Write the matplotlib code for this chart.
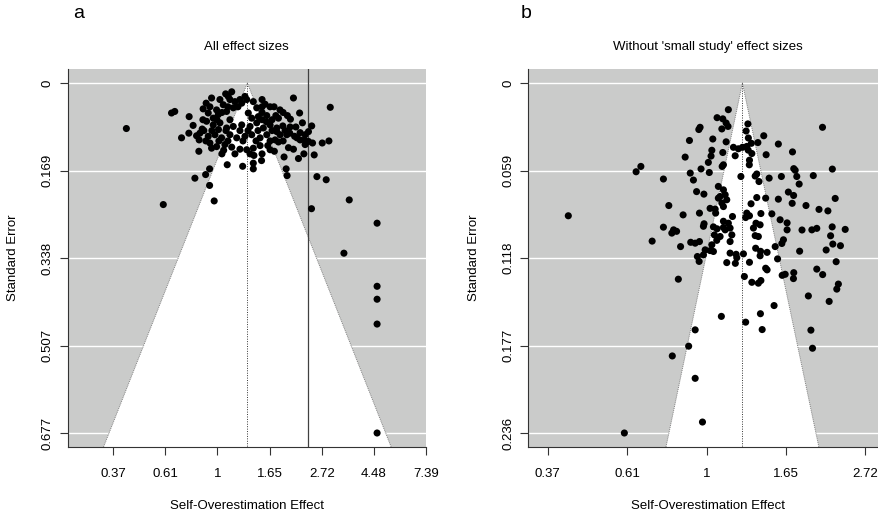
#!/usr/bin/env python3
"""Funnel plots of self-overestimation effects (log scale) vs standard error."""

import numpy as np
import matplotlib

matplotlib.use("Agg")
import matplotlib.pyplot as plt
from matplotlib.patches import Polygon

plt.rcParams["font.family"] = ["Liberation Sans", "DejaVu Sans"]

# panel a: all effect sizes (log effect, standard error)
a_yi = [
    -0.873, -0.440, -0.409, -0.344, -0.271, -0.233, -0.200, -0.178, -0.216, -0.113,
    -0.075, -0.075, -0.031, -0.519, 0.094, 0.242, 0.344, 0.344, 0.423, 0.639,
    0.659, 0.668, 0.729, 0.788, 0.671, 0.815, 0.904, 1.005, 1.069, 0.928,
    1.082, 0.954, 1.043, 1.264, 0.902, 1.531, 1.213, 1.531, 1.531, 1.531,
    1.531, -0.274, -0.175, -0.146, -0.108, -0.056, -0.137, 0.457, 0.543, 0.377,
    0.560, 0.473, 0.627, 0.697, 0.752, 0.569, 0.665, 0.694, 0.601, 0.793,
    0.841, 0.873, 0.585, 0.762, 0.793, 0.835, 0.873, 0.912, 0.841, 0.681,
    0.729, 0.829, 0.777, 0.505, 0.546, 0.483,
    0.079, 0.137, 0.104, 0.264, 0.281, 0.024, 0.056, -0.008, 0.168, 0.233, 0.344,
    -0.088, -0.040, 0.008, 0.088, 0.152, 0.296, 0.329, 0.392, 0.585,
    -0.104, -0.040, 0.024, 0.088, 0.152, 0.233, 0.313, 0.377, 0.440, 0.505, 0.569,
    -0.168, -0.088, -0.024, 0.040, 0.120, 0.185, 0.264, 0.329, 0.409, 0.473, 0.553,
    -0.072, -0.008, 0.072, 0.137, 0.216, 0.281, 0.344, 0.409, -0.056,
    -0.072, 0.101, 0.197, 0.428, 0.505,
    -0.139, -0.005, 0.120, 0.428, 0.524,
    -0.130, -0.053, 0.082, 0.216, 0.293, 0.389, 0.524, 0.649,
    -0.111, 0.014, 0.101, 0.245, 0.370, 0.505, 0.630,
    0.043, 0.168, 0.313, 0.428,
    0.120, 0.216, 0.428,
    0.043, 0.428, 0.630,
    0.010, 0.060, 0.350, 0.470, 0.600, 0.700, 0.740,
]
a_sei = [
    0.088, 0.058, 0.055, 0.106, 0.065, 0.082, 0.102, 0.132, 0.184, 0.177,
    0.166, 0.198, 0.228, 0.235, 0.158, 0.161, 0.155, 0.166, 0.150, 0.143,
    0.166, 0.179, 0.029, 0.058, 0.063, 0.077, 0.083, 0.116, 0.112, 0.139,
    0.047, 0.181, 0.187, 0.226, 0.243, 0.271, 0.329, 0.393, 0.418, 0.466,
    0.6766, 0.097, 0.110, 0.089, 0.039, 0.029, 0.050, 0.041, 0.046, 0.048,
    0.063, 0.063, 0.083, 0.085, 0.085, 0.094, 0.100, 0.097, 0.100, 0.096,
    0.100, 0.094, 0.114, 0.106, 0.110, 0.110, 0.113, 0.116, 0.119, 0.125,
    0.128, 0.137, 0.146, 0.129, 0.132, 0.121,
    0.021, 0.017, 0.026, 0.026, 0.032, 0.032, 0.042, 0.052, 0.036, 0.039, 0.036,
    0.058, 0.068, 0.061, 0.055, 0.048, 0.058, 0.068, 0.065, 0.068,
    0.074, 0.081, 0.077, 0.087, 0.084, 0.081, 0.084, 0.077, 0.087, 0.081, 0.087,
    0.097, 0.103, 0.100, 0.106, 0.100, 0.106, 0.103, 0.100, 0.106, 0.100, 0.110,
    0.116, 0.123, 0.119, 0.124, 0.128, 0.129, 0.126, 0.121, 0.126,
    0.046, 0.046, 0.046, 0.046, 0.046,
    0.071, 0.071, 0.071, 0.071, 0.071,
    0.092, 0.092, 0.092, 0.092, 0.092, 0.092, 0.092, 0.092,
    0.112, 0.112, 0.112, 0.112, 0.112, 0.112, 0.112,
    0.137, 0.137, 0.137, 0.137,
    0.032, 0.032, 0.032,
    0.057, 0.057, 0.057,
    0.090, 0.130, 0.140, 0.075, 0.052, 0.070, 0.103,
]
a_est = 0.287
a_ref = 0.873

# panel b: without 'small study' effect sizes
b_yi = [
    0.137, 0.066, 0.102, 0.123, 0.135, 0.096, -0.041, -0.049, -0.108, 0.039,
    0.123, -0.135, 0.033, 0.028, 0.011, 0.102, 0.106, 0.098, -0.035, -0.103,
    -0.083, 0.017, -0.444, -0.414, -0.272, -0.063, -0.017, 0.074, 0.106, 0.085,
    0.117, 0.096, 0.106, 0.054, 0.127, 0.074, -0.238, -0.148, -0.045, 0.022,
    0.057, -0.871, -0.272, -0.208, -0.219, -0.189, -0.343, -0.164, -0.100, -0.072,
    -0.045, -0.016, -0.020, 0.043, 0.033, 0.022, -0.020, -0.058, -0.047, -0.009,
    0.043, 0.064, 0.049, 0.106, 0.137, 0.117, 0.085, 0.148, 0.159, 0.163,
    0.148, 0.106, 0.148, 0.186, 0.190, 0.181, 0.127, 0.232, 0.270, 0.238,
    0.285, 0.326, 0.342, 0.260, 0.249, 0.263, 0.282, 0.323, 0.360, 0.169,
    0.200, 0.226, 0.180, 0.262, 0.285, 0.270, 0.269, 0.253, 0.375, 0.452,
    0.541, 0.730, 0.216, 0.306, 0.316, 0.330, 0.394, 0.471, 0.549, 0.558,
    0.568, 0.583, 0.672, 0.792, 0.316, 0.372, 0.452, 0.515, 0.548, 0.539,
    0.626, 0.708, 0.764, 0.810, 0.280, 0.253, 0.270, 0.246, 0.342, 0.411,
    0.463, 0.507, 0.507, 0.311, 0.337, 0.295, 0.306, 0.326, 0.601, 0.663,
    0.694, 0.791, 0.873, 0.781, 0.795, 0.843, 0.753, 0.816, 0.586, 0.484,
    0.474, 0.432, 0.309, 0.340, 0.381, 0.337, 0.447, 0.372, 0.381, 0.476,
    0.495, 0.549, 0.547, 0.694, 0.731, 0.830, 0.820, 0.772, 0.641, -0.178,
    0.425, 0.339, 0.246, 0.350, 0.093, -0.072, -0.113, -0.216, -0.072, -0.026,
    -0.518, 0.657, 0.667, 0.066,
]
b_sei = [
    0.0180, 0.0234, 0.0242, 0.0270, 0.0293, 0.0310, 0.0299, 0.0314, 0.0388, 0.0378,
    0.0397, 0.0500, 0.0454, 0.0493, 0.0536, 0.0469, 0.0552, 0.0563, 0.0580, 0.0608,
    0.0655, 0.0604, 0.0599, 0.0563, 0.0648, 0.0733, 0.0750, 0.0698, 0.0721, 0.0766,
    0.0754, 0.0810, 0.0834, 0.0851, 0.0788, 0.0777, 0.0827, 0.0890, 0.0878, 0.0846,
    0.0878, 0.0896, 0.0973, 0.0991, 0.1013, 0.1001, 0.1067, 0.1104, 0.1075, 0.1081,
    0.1070, 0.0950, 0.0967, 0.0971, 0.1092, 0.1131, 0.1160, 0.1171, 0.1204, 0.1126,
    0.1137, 0.1062, 0.1025, 0.0933, 0.0946, 0.0991, 0.1036, 0.1070, 0.1025, 0.0901,
    0.0979, 0.0975, 0.1148, 0.1156, 0.1179, 0.1217, 0.1212, 0.1153, 0.1210, 0.1306,
    0.1345, 0.1351, 0.1333, 0.0276, 0.0324, 0.0371, 0.0407, 0.0402, 0.0356, 0.0434,
    0.0444, 0.0434, 0.0491, 0.0453, 0.0476, 0.0521, 0.0552, 0.0428, 0.0484, 0.0412,
    0.0465, 0.0299, 0.0631, 0.0628, 0.0614, 0.0665, 0.0642, 0.0631, 0.0578, 0.0589,
    0.0631, 0.0682, 0.0625, 0.0581, 0.0773, 0.0777, 0.0784, 0.0736, 0.0759, 0.0812,
    0.0827, 0.0853, 0.0863, 0.0779, 0.0815, 0.0878, 0.0896, 0.0908, 0.0881, 0.0883,
    0.0923, 0.0944, 0.0991, 0.0946, 0.0957, 0.0979, 0.1030, 0.1036, 0.0992, 0.0991,
    0.0981, 0.0971, 0.0988, 0.1031, 0.1087, 0.1098, 0.1127, 0.1206, 0.1135, 0.1058,
    0.1083, 0.1104, 0.1115, 0.1136, 0.1143, 0.1166, 0.1187, 0.1250, 0.1261, 0.1298,
    0.1291, 0.1280, 0.1320, 0.1256, 0.1293, 0.1357, 0.1391, 0.1474, 0.1437, 0.1324,
    0.1502, 0.1557, 0.1614, 0.1664, 0.1575, 0.1666, 0.1776, 0.1842, 0.1993, 0.2288,
    0.2362, 0.1668, 0.1790, 0.0984,
]
b_est = 0.2256

BACK = "#CACBCA"
FS = 9.5


def fmt(v, nd):
    s = f"{v:.{nd}f}"
    return s.rstrip("0").rstrip(".") if "." in s else s


def funnel(ax, yi, sei, est, xlim, xticks, title, ref=None):
    ymax = max(sei)
    ybot = ymax * 1.04
    ax.set_facecolor(BACK)
    ax.set_xlim(*xlim)
    ax.set_ylim(ybot, -ymax * 0.04)

    yt = np.linspace(0, ymax, 5)
    for y in yt:
        ax.axhline(y, color="white", lw=1.0, zorder=1)

    half = 1.96 * ybot
    tri = [(est - half, ybot), (est, 0), (est + half, ybot)]
    ax.add_patch(Polygon(tri, closed=True, facecolor="white", edgecolor="none", zorder=1.5))
    ax.plot([est - half, est, est + half], [ybot, 0, ybot], color="#808080",
            lw=0.7, ls=(0, (1, 1)), zorder=2)
    ax.plot([est, est], [0, ybot], color="#333333", lw=0.7, ls=(0, (1, 1.5)), zorder=2)
    if ref is not None:
        ax.axvline(ref, color="#404040", lw=0.9, zorder=2)

    ax.scatter(yi, sei, s=26, color="black", edgecolors="none", zorder=3)

    ax.set_xticks(xticks)
    ax.set_xticklabels([fmt(np.exp(t), 2) for t in xticks], fontsize=FS)
    ax.set_yticks(yt)
    ax.set_yticklabels([fmt(v, 3) for v in yt], fontsize=FS, rotation=90, va="center")
    ax.tick_params(direction="out", length=6, width=0.8, color="#333333")
    ax.tick_params(axis="x", pad=9)
    ax.tick_params(axis="y", pad=4)

    for side in ("top", "right"):
        ax.spines[side].set_visible(False)
    for side in ("left", "bottom"):
        ax.spines[side].set_color("#333333")
        ax.spines[side].set_linewidth(0.8)

    ax.set_title(title, fontsize=FS, pad=14)
    ax.set_xlabel("Self-Overestimation Effect", fontsize=FS)
    ax.set_ylabel("Standard Error", fontsize=FS)
    ax.xaxis.set_label_coords(0.5, -0.14)
    ax.yaxis.set_label_coords(-0.135, 0.5)


fig = plt.figure(figsize=(8.79, 5.16), dpi=100)
W, H = 879, 516
ax_a = fig.add_axes([67.5 / W, 1 - 447 / H, 358.5 / W, 378 / H])
ax_b = fig.add_axes([528.3 / W, 1 - 447 / H, 358.5 / W, 378 / H])

funnel(ax_a, a_yi, a_sei, a_est, (-1.4375, 2.0), np.arange(-1, 2.01, 0.5),
       "All effect sizes", ref=a_ref)
funnel(ax_b, b_yi, b_sei, b_est, (-1.123, 1.135), np.arange(-1, 1.01, 0.5),
       "Without 'small study' effect sizes")

fig.text(73 / W, 1 - 13 / H, "a", fontsize=14, va="center", ha="left")
fig.text(521 / W, 1 - 13 / H, "b", fontsize=14, va="center", ha="left")

fig.savefig("out.png", dpi=100)
